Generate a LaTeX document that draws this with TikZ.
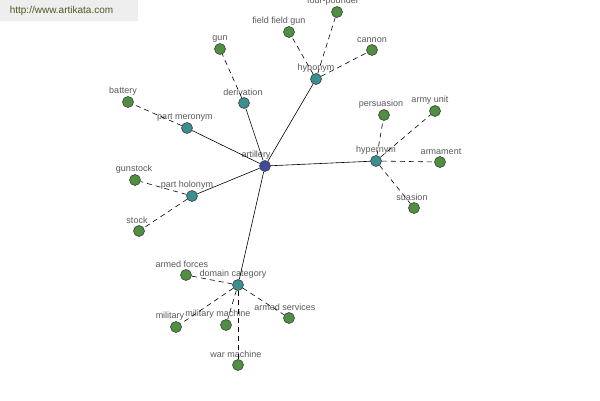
\documentclass[tikz,border=0pt]{standalone}
\usepackage{fontspec}
\setmainfont{Liberation Sans}
\usetikzlibrary{calc}

\definecolor{hubblue}{HTML}{3F4A9A}
\definecolor{relteal}{HTML}{3A9090}
\definecolor{leafgreen}{HTML}{4F9040}
\definecolor{siteolive}{HTML}{4A5A22}

\begin{document}
\begin{tikzpicture}[x=1pt,y=-1pt,
    dot/.style={circle,draw=black!75,line width=0.6pt,minimum size=11pt,inner sep=0pt},
    hub/.style={dot,fill=hubblue},
    rel/.style={dot,fill=relteal},
    leaf/.style={dot,fill=leafgreen},
    every label/.style={font=\fontsize{9}{10}\selectfont,text=black!65,inner sep=0pt},
    link/.style={line width=0.6pt},
    sublink/.style={line width=0.6pt,dash pattern=on 5pt off 4pt}]
  \useasboundingbox[fill=white] (0,0) rectangle (600,400);
  % watermark
  \fill[gray!13] (0,0) rectangle (138,21);
  \node[font=\fontsize{10}{11}\selectfont,text=siteolive,inner sep=0pt] (site) at (61.5,11) {http://www.artikata.com};

  % centre and relation nodes
  \node[hub,label={[xshift=-9pt,label distance=1pt]above:artillery}] (artillery) at (265,166) {};
  \foreach \n/\x/\y/\dx/\t in {hyponym/316/79/0/hyponym,
      derivation/244/103/-1/derivation,
      meronym/187/128/-2/part meronym,
      holonym/192/196/-5/part holonym,
      domain/238/285/-5/domain category,
      hypernym/376/161/0/hypernym}
    \node[rel,label={[xshift=\dx pt,label distance=1pt]above:\t}] (\n) at (\x,\y) {};

  % leaves
  \foreach \n/\x/\y/\dx/\t in {fourpounder/337/12/-4/four-pounder,
      fieldgun/289/32/-10/field field gun,
      cannon/372/50/0/cannon,
      gun/220/49/0/gun,
      battery/128/102/-5/battery,
      gunstock/135/180/-1/gunstock,
      stock/139/231/-2/stock,
      persuasion/384/115/-3/persuasion,
      armyunit/435/111/-5/army unit,
      armament/440/162/1/armament,
      suasion/414/208/-2/suasion,
      armedforces/186/275/-4/armed forces,
      military/176/327/-6/military,
      warmachine2/226/325/-8/military machine,
      armedservices/289/318/-4/armed services,
      warmachine/238/365/-2/war machine}
    \node[leaf,label={[xshift=\dx pt,label distance=1pt]above:\t}] (\n) at (\x,\y) {};

  % solid links from the centre
  \foreach \r in {hyponym,derivation,meronym,holonym,domain,hypernym}
    \draw[link] (artillery) -- (\r);

  % dashed links to the leaves
  \foreach \r/\l in {hyponym/fourpounder,hyponym/fieldgun,hyponym/cannon,
      derivation/gun,meronym/battery,holonym/gunstock,holonym/stock,
      hypernym/persuasion,hypernym/armyunit,hypernym/armament,hypernym/suasion,
      domain/armedforces,domain/military,domain/warmachine2,
      domain/armedservices,domain/warmachine}
    \draw[sublink] (\r) -- (\l);
\end{tikzpicture}
\end{document}
